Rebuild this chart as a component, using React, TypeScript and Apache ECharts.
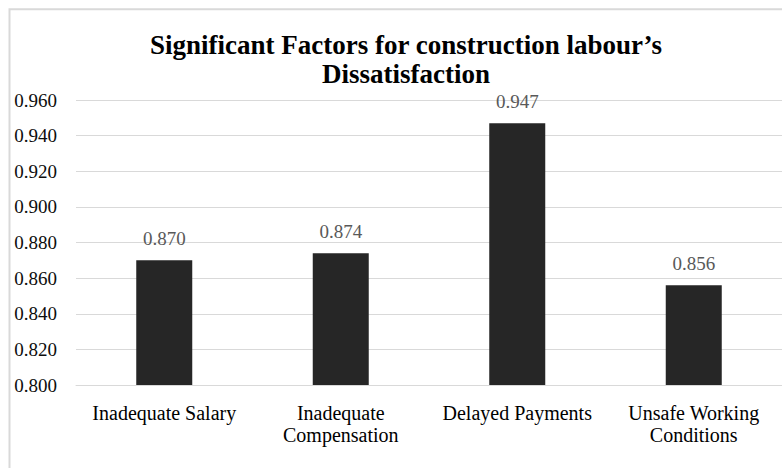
import React, { useEffect, useRef } from "react";
import * as echarts from "echarts";

const titleText = "Significant Factors for construction labour’s\nDissatisfaction";
const categories = [
  "Inadequate Salary",
  "Inadequate\nCompensation",
  "Delayed Payments",
  "Unsafe Working\nConditions",
];
const values = [0.87, 0.874, 0.947, 0.856];
const yMin = 0.8;
const yMax = 0.96;
const yStep = 0.02;

const FONT = "Liberation Serif";

export default function App() {
  const ref = useRef<HTMLDivElement>(null);
  useEffect(() => {
    if (!ref.current) return;
    const chart = echarts.init(ref.current, undefined, { renderer: "svg" });
    chart.setOption({
      animation: false,
      backgroundColor: "#ffffff",
      textStyle: { fontFamily: FONT },
      title: {
        text: titleText,
        left: 401,
        top: 25,
        textAlign: "center",
        textStyle: {
          fontFamily: FONT,
          fontWeight: "bold",
          fontSize: 27,
          lineHeight: 29,
          color: "#000000",
        },
      },
      graphic: [
        {
          type: "rect",
          shape: { x: 9.5, y: 9.3, width: 820, height: 520 },
          style: { fill: "none", stroke: "#d9d9d9", lineWidth: 2 },
          silent: true,
        },
      ],
      grid: { left: 76, right: -13, top: 100, bottom: 83, containLabel: false },
      xAxis: {
        type: "category",
        data: categories,
        axisLine: { show: true, lineStyle: { color: "#d9d9d9", width: 1 } },
        axisTick: { show: false },
        axisLabel: {
          interval: 0,
          margin: 17,
          fontFamily: FONT,
          fontSize: 20,
          lineHeight: 22,
          color: "#000000",
        },
      },
      yAxis: {
        type: "value",
        min: yMin,
        max: yMax,
        interval: yStep,
        axisLine: { show: false },
        axisTick: { show: false },
        splitLine: { lineStyle: { color: "#d9d9d9", width: 1 } },
        axisLabel: {
          margin: 19,
          fontFamily: FONT,
          fontSize: 19,
          color: "#0d0d0d",
          formatter: (v: number) => v.toFixed(3),
        },
      },
      series: [
        {
          type: "bar",
          data: values,
          barWidth: 56,
          itemStyle: { color: "#262626" },
          label: {
            show: true,
            position: "top",
            distance: 12,
            fontFamily: FONT,
            fontSize: 19,
            color: "#595959",
            formatter: (p: any) => Number(p.value).toFixed(3),
          },
        },
      ],
    });
    return () => chart.dispose();
  }, []);
  return (
    <div
      ref={ref}
      style={{ position: "fixed", left: 0, top: 0, width: 782, height: 468 }}
    />
  );
}
